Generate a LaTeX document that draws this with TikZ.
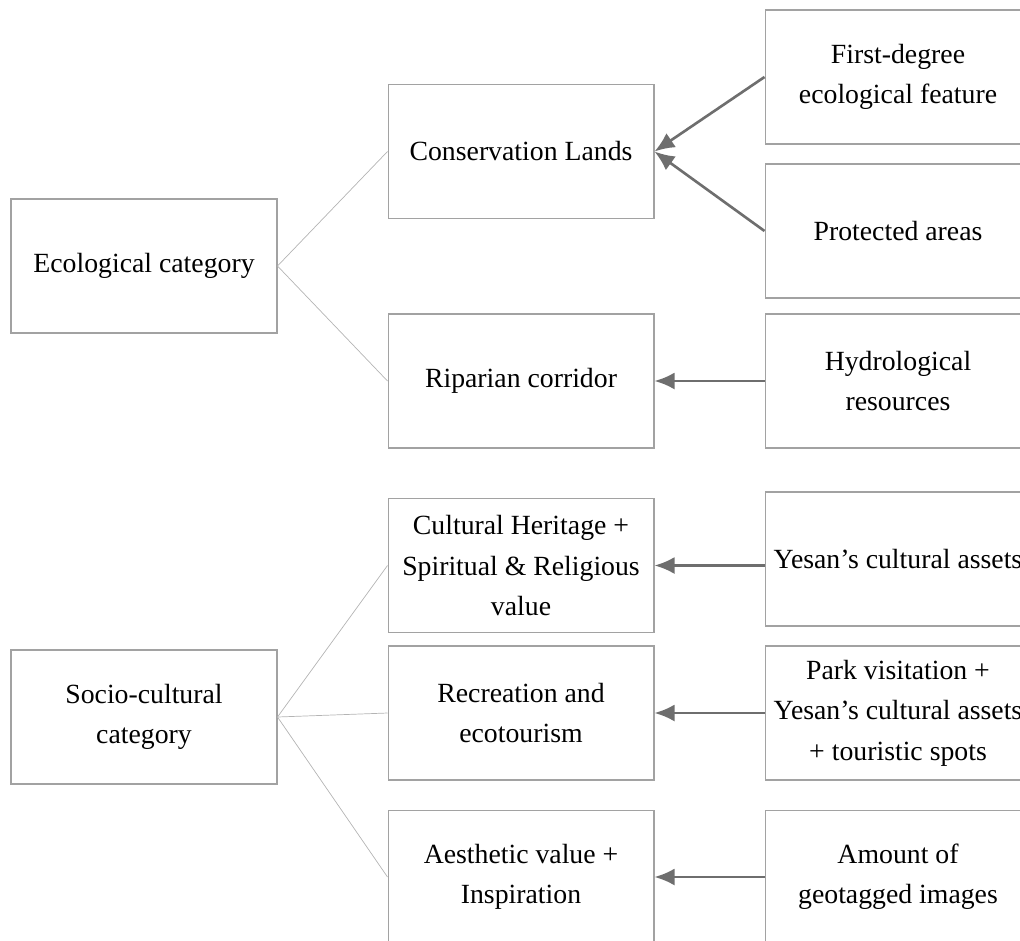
\documentclass[tikz,border=0pt]{standalone}
\usepackage{fontspec}
\setmainfont{Liberation Serif}
\usetikzlibrary{arrows.meta}
\definecolor{boxgray}{HTML}{A2A2A2}
\definecolor{linegray}{HTML}{B4B4B4}
\definecolor{arrowgray}{HTML}{6E6E6E}
\begin{document}
\begin{tikzpicture}[x=0.02cm, y=-0.02cm, font=\fontsize{15.8}{23}\selectfont]
              \useasboundingbox (0,0) rectangle (1020,940);
              \clip (0,0) rectangle (1020,940);
              \begin{scope}[every node/.style={draw=boxgray, line width=0.6pt, rectangle, align=center,
                  minimum width=5.32cm, minimum height=2.68cm, inner sep=0pt}]
                \node (eco)    at (144,266)   {Ecological category};
                \node (socio)  at (144,717)   {Socio-cultural\\category};
                \node (cons)   at (521,151.5) {Conservation Lands};
                \node (rip)    at (521,381)   {Riparian corridor};
                \node (cult)   at (521,565.5) {Cultural Heritage +\\Spiritual \& Religious\\value};
                \node (recr)   at (521,713)   {Recreation and\\ecotourism};
                \node (aest)   at (521,877)   {Aesthetic value +\\Inspiration};
                \node (first)  at (898,77)    {First-degree\\ecological feature};
                \node (prot)   at (898,231)   {Protected areas};
                \node (hydro)  at (898,381)   {Hydrological\\resources};
                \node (yesan)  at (898,559)   {Yesan’s cultural assets};
                \node (park)   at (898,713)   {Park visitation +\\Yesan’s cultural assets\\+ touristic spots};
                \node (amount) at (898,877)   {Amount of\\geotagged images};
              \end{scope}
              \begin{scope}[every edge/.style={draw=linegray, line width=0.4pt}]
                \path (eco.east) edge (cons.west);
                \path (eco.east) edge (rip.west);
                \path (socio.east) edge (cult.west);
                \path (socio.east) edge (recr.west);
                \path (socio.east) edge (aest.west);
              \end{scope}
              \begin{scope}[every edge/.style={draw=arrowgray, line width=1.5pt,
                  -{Latex[length=4mm, width=3.4mm]}}]
                \path (first.west) edge (cons.east);
                \path (prot.west) edge (cons.east);
                \path (hydro.west) edge (rip.east);
                \path (yesan.west |- cult.east) edge (cult.east);
                \path (park.west) edge (recr.east);
                \path (amount.west) edge (aest.east);
              \end{scope}
            \end{tikzpicture}
\end{document}
